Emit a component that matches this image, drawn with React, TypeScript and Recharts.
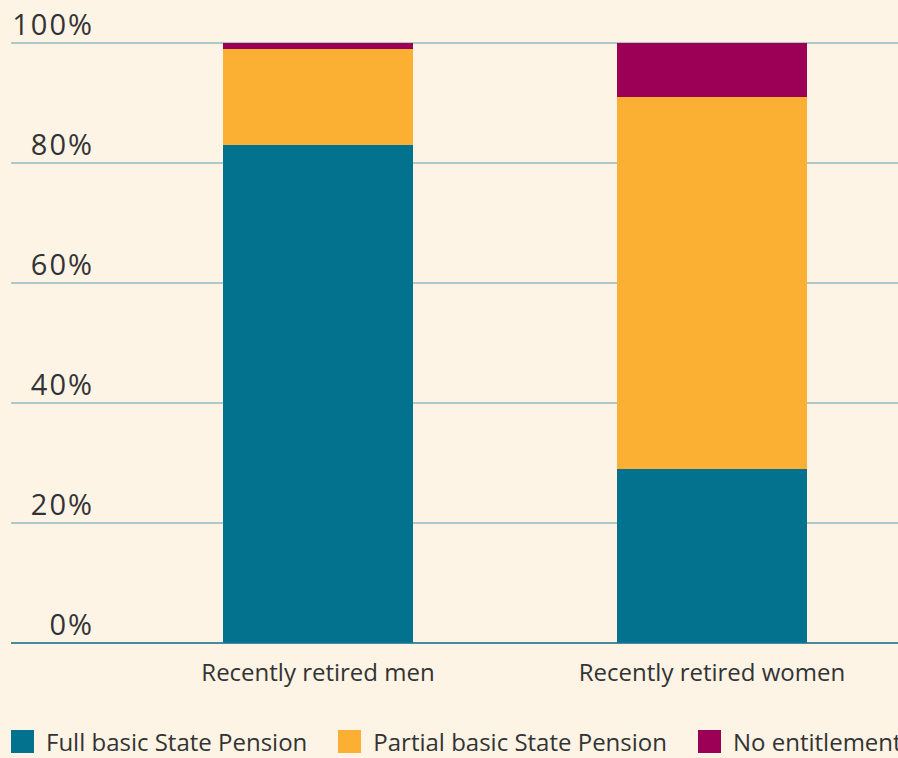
import React from "react";
import { BarChart, Bar, XAxis, YAxis, CartesianGrid, Legend } from "recharts";

const categories = ["Recently retired men", "Recently retired women"];
const fullBasic = [83, 29];
const partialBasic = [16, 62];
const noEntitlement = [1, 9];
const yTicks = [0, 20, 40, 60, 80, 100];
const seriesNames = ["Full basic State Pension", "Partial basic State Pension", "No entitlement"];
const seriesColors = ["#03728f", "#fbb034", "#9b0056"];

const data = categories.map((c, i) => ({
  name: c,
  full: fullBasic[i],
  partial: partialBasic[i],
  none: noEntitlement[i],
}));

const FONT = "'Open Sans', sans-serif";
const TEXT = "#333333";

const YTick = (props: any) => {
  const { y, payload } = props;
  return (
    <text x={94} y={y - 8} textAnchor="end" fontFamily={FONT} fontSize={29} letterSpacing={2} fill={TEXT}>
      {payload.value}%
    </text>
  );
};

const XTick = (props: any) => {
  const { x, y, payload } = props;
  return (
    <text x={x} y={y + 30} textAnchor="middle" fontFamily={FONT} fontSize={24} fill={TEXT}>
      {payload.value}
    </text>
  );
};

const LegendContent = (props: any) => {
  const { payload } = props;
  const items = seriesNames.map((n) => (payload || []).find((p: any) => p.value === n)).filter(Boolean);
  return (
    <div style={{ display: "flex", alignItems: "center", height: 33, paddingLeft: 11, fontFamily: FONT, fontSize: 24, color: TEXT, whiteSpace: "nowrap" }}>
      {items.map((p: any, i: number) => (
        <div key={i} style={{ display: "flex", alignItems: "center", marginRight: 31 }}>
          <div style={{ width: 23, height: 23, background: p.color, marginRight: 12 }} />
          <span style={{ lineHeight: "33px" }}>{p.value}</span>
        </div>
      ))}
    </div>
  );
};

export default function App() {
  return (
    <div style={{ position: "absolute", left: 0, top: 0, width: 898, height: 758, overflow: "hidden", background: "#fdf4e6" }}>
      <BarChart
        width={920}
        height={758}
        data={data}
        margin={{ top: 43, right: 11, bottom: 0, left: 10 }}
        barSize={190}
      >
        <CartesianGrid horizontal vertical={false} stroke="#5f9fae" strokeWidth={1} />
        <XAxis
          dataKey="name"
          height={82}
          padding={{ left: 110, right: 0 }}
          tickLine={false}
          axisLine={{ stroke: "#237690", strokeWidth: 1.5 }}
          tick={<XTick />}
          interval={0}
        />
        <YAxis
          width={1}
          domain={[0, 100]}
          ticks={yTicks}
          axisLine={false}
          tickLine={false}
          tick={<YTick />}
          interval={0}
        />
        <Legend verticalAlign="bottom" align="left" height={33} wrapperStyle={{ left: 0, width: 920 }} content={<LegendContent />} />
        <Bar dataKey="full" name={seriesNames[0]} stackId="a" fill={seriesColors[0]} isAnimationActive={false} />
        <Bar dataKey="partial" name={seriesNames[1]} stackId="a" fill={seriesColors[1]} isAnimationActive={false} />
        <Bar dataKey="none" name={seriesNames[2]} stackId="a" fill={seriesColors[2]} isAnimationActive={false} />
      </BarChart>
    </div>
  );
}
